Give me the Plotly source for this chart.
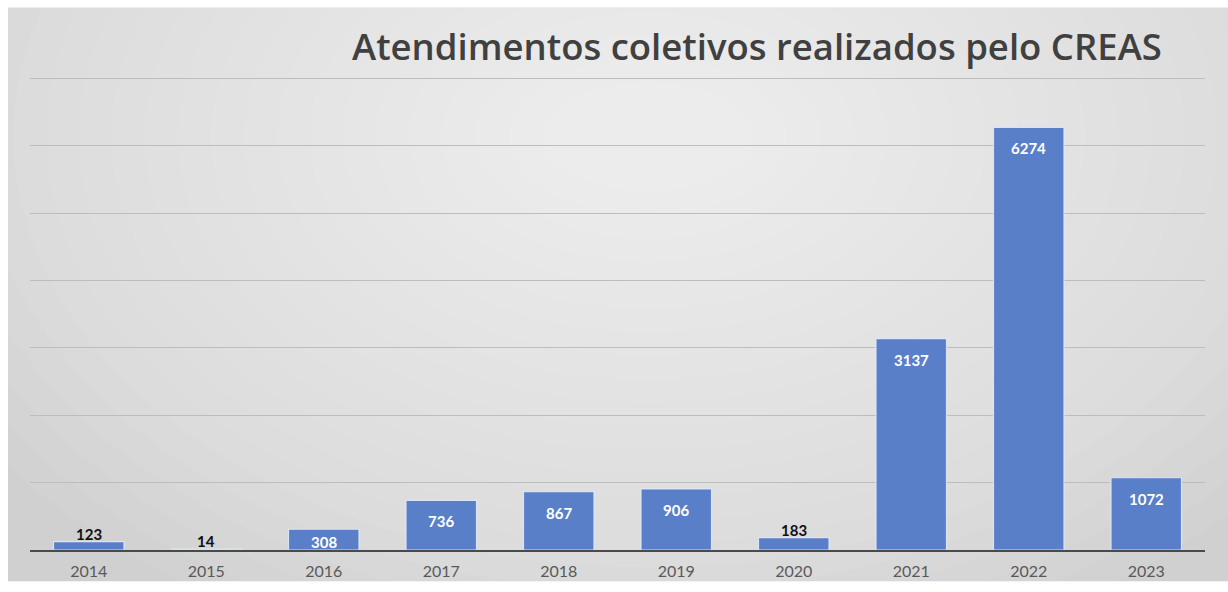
import plotly.graph_objects as go

years = ["2014", "2015", "2016", "2017", "2018", "2019", "2020", "2021", "2022", "2023"]
values = [123, 14, 308, 736, 867, 906, 183, 3137, 6274, 1072]
label_inside = [False, False, True, True, True, True, False, True, True, True]
title_text = "Atendimentos coletivos realizados pelo CREAS"

FW, FH = 1228, 592
ML, MR, MT, MB = 30, 23, 75, 32
PW, PH = FW - ML - MR, FH - MT - MB
YMAX = 7050

fig = go.Figure()
fig.add_trace(go.Bar(
    x=years, y=values,
    marker=dict(color="#5a7fc9", line=dict(color="rgba(225,232,248,0.9)", width=1.2)),
    showlegend=False, hoverinfo="x+y",
))

annotations = []
for idx, (v, ins) in enumerate(zip(values, label_inside)):
    bar_px = v / YMAX * PH
    shift = -min(10, max(1, (bar_px - 17) / 2)) if ins else -3
    annotations.append(dict(
        x=idx, y=v, xref="x", yref="y", text=str(v), showarrow=False,
        yanchor="top" if ins else "bottom", yshift=shift,
        font=dict(family="Lato", size=15, color="#ffffff" if ins else "#111111", weight=700),
    ))
annotations.append(dict(
    text=title_text, xref="paper", yref="paper",
    x=(757 - ML) / PW, y=(FH - MB - 45.5) / PH, xanchor="center", yanchor="middle",
    showarrow=False, font=dict(family="Open Sans", size=36.5, color="#404040", weight=600)))

# grey chart area (leaves a thin white strip at left and top as in the reference)
shapes = [dict(type="rect", xref="paper", yref="paper", x0=(8 - ML) / PW, x1=(FW - ML) / PW,
               y0=-MB / PH, y1=(FH - MB - 6) / PH, fillcolor="#d0d0d0", line=dict(width=0), layer="below")]
# soft radial highlight built from nested ellipses (background styling only)
cx, cy = 648, 138
for i in range(22):
    rx = 800 - i * 33
    ry = 560 - i * 24
    shapes.append(dict(type="circle", xref="paper", yref="paper",
                       x0=(cx - rx - ML) / PW, x1=(cx + rx - ML) / PW,
                       y0=(FH - MB - (cy + ry)) / PH, y1=(FH - MB - (cy - ry)) / PH,
                       fillcolor="rgba(255,255,255,0.055)", line=dict(width=0), layer="below"))

fig.update_layout(
    width=FW, height=FH,
    margin=dict(l=ML, r=MR, t=MT, b=MB),
    paper_bgcolor="#ffffff",
    plot_bgcolor="rgba(0,0,0,0)",
    bargap=0.40,
    shapes=shapes,
    annotations=annotations,
    xaxis=dict(type="category", range=[-0.5, len(years) - 0.5], showgrid=False, showline=True,
               linecolor="#4a4a4a", linewidth=2,
               ticks="", tickfont=dict(family="Lato", size=16, color="#595959"), ticklabelstandoff=6),
    yaxis=dict(range=[0, YMAX], dtick=1000, showgrid=True, gridcolor="#bdbdbd", gridwidth=1,
               showticklabels=False, zeroline=False, showline=False),
)

fig.write_html("out.html", config={"displayModeBar": False})

# remove the default page margin so the 1228x592 figure fills the window exactly
with open("out.html", "r", encoding="utf-8") as f:
    html = f.read()
html = html.replace("<head>", "<head><style>html,body{margin:0;padding:0;overflow:hidden;}</style>", 1)
with open("out.html", "w", encoding="utf-8") as f:
    f.write(html)
